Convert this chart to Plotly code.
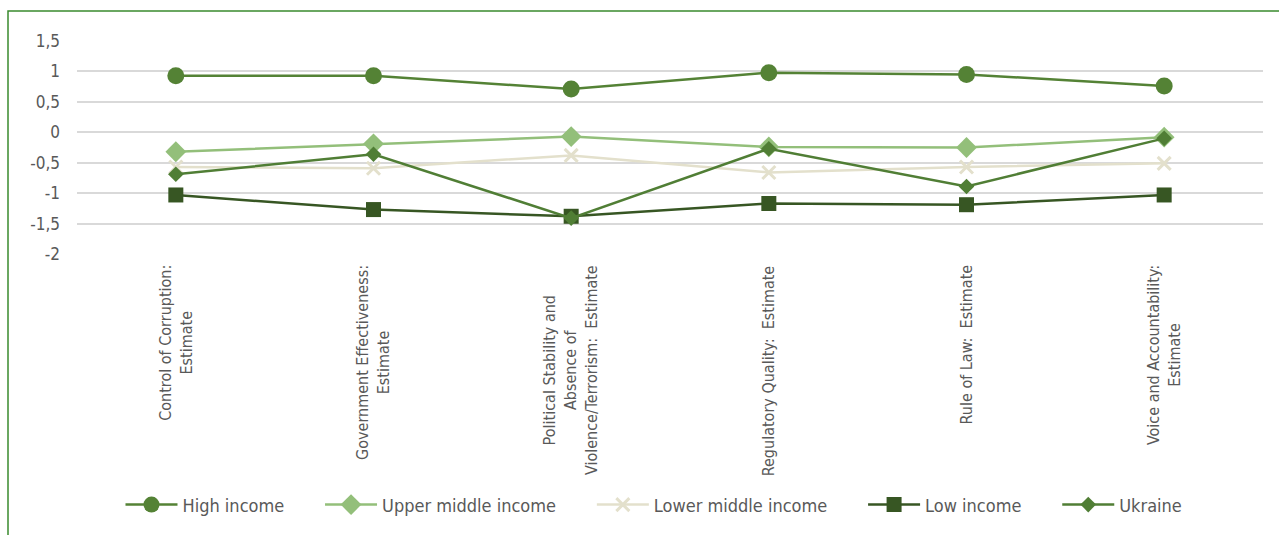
import plotly.graph_objects as go

categories = [
    "Control of Corruption:<br>Estimate",
    "Government Effectiveness:<br>Estimate",
    "Political Stability and<br>Absence of<br>Violence/Terrorism:  Estimate",
    "Regulatory Quality:  Estimate",
    "Rule of Law:  Estimate",
    "Voice and Accountability:<br>Estimate",
]
high_income = [0.93, 0.93, 0.71, 0.98, 0.95, 0.76]
upper_middle_income = [-0.32, -0.19, -0.07, -0.24, -0.25, -0.08]
lower_middle_income = [-0.57, -0.59, -0.38, -0.66, -0.57, -0.51]
low_income = [-1.03, -1.27, -1.38, -1.17, -1.19, -1.03]
ukraine = [-0.69, -0.36, -1.41, -0.27, -0.89, -0.10]

y_ticks = [1.5, 1, 0.5, 0, -0.5, -1, -1.5, -2]

FONT = "DejaVu Sans Condensed, DejaVu Sans, sans-serif"
TXT = "#595959"
PAD = "\u00a0" * 6

x_idx = list(range(len(categories)))

fig = go.Figure()
series = [
    ("High income", high_income, "#548235", "circle", 17, 2.5),
    ("Upper middle income", upper_middle_income, "#93BF7A", "diamond", 16, 2.5),
    ("Lower middle income", lower_middle_income, "#E3E0CC", "x-thin", 13, 2.5),
    ("Low income", low_income, "#375623", "square", 15, 2.5),
    ("Ukraine", ukraine, "#507E35", "diamond", 12, 2.5),
]
for k, (name, vals, col, sym, size, lw) in enumerate(series):
    marker = dict(symbol=sym, size=size, color=col)
    if sym == "x-thin":
        marker["line"] = dict(color=col, width=3)
    label = name + (PAD if k < len(series) - 1 else "")
    fig.add_trace(go.Scatter(
        x=x_idx, y=vals, name=label, mode="lines+markers",
        line=dict(color=col, width=lw), marker=marker,
    ))

for i, c in enumerate(categories):
    fig.add_annotation(
        x=i, y=-0.042, xref="x", yref="paper", text=c, textangle=-90,
        showarrow=False, yanchor="top", xanchor="center", align="center",
        font=dict(family=FONT, size=16, color=TXT),
    )

fig.add_shape(type="rect", xref="paper", yref="paper",
              x0=(8 - 77) / 1186, x1=(1300 - 77) / 1186,
              y0=(254 - 560) / 213, y1=(254 - 11) / 213,
              line=dict(color="#3A8A2E", width=1.5), layer="below")

fig.update_layout(
    width=1279, height=535,
    margin=dict(l=77, r=16, t=41, b=281),
    paper_bgcolor="white", plot_bgcolor="white",
    separators=", ",
    showlegend=True,
    legend=dict(orientation="h", x=0.4865, xanchor="center", y=-1.178, yanchor="middle",
                font=dict(family=FONT, size=18, color=TXT), itemwidth=52,
                itemsizing="trace", bgcolor="rgba(0,0,0,0)"),
    xaxis=dict(range=[-0.5, 5.5], showticklabels=False, showgrid=False, zeroline=False,
               showline=False, ticks=""),
    yaxis=dict(range=[-2, 1.5], tickvals=y_ticks, ticktext=[str(v).replace(".", ",") for v in y_ticks],
               showgrid=True, gridcolor="#D9D9D9", gridwidth=1.5, zeroline=False,
               showline=False, ticks="", ticklen=0, ticklabelstandoff=16,
               tickfont=dict(family=FONT, size=17, color=TXT)),
)

fig.write_html("out.html")
